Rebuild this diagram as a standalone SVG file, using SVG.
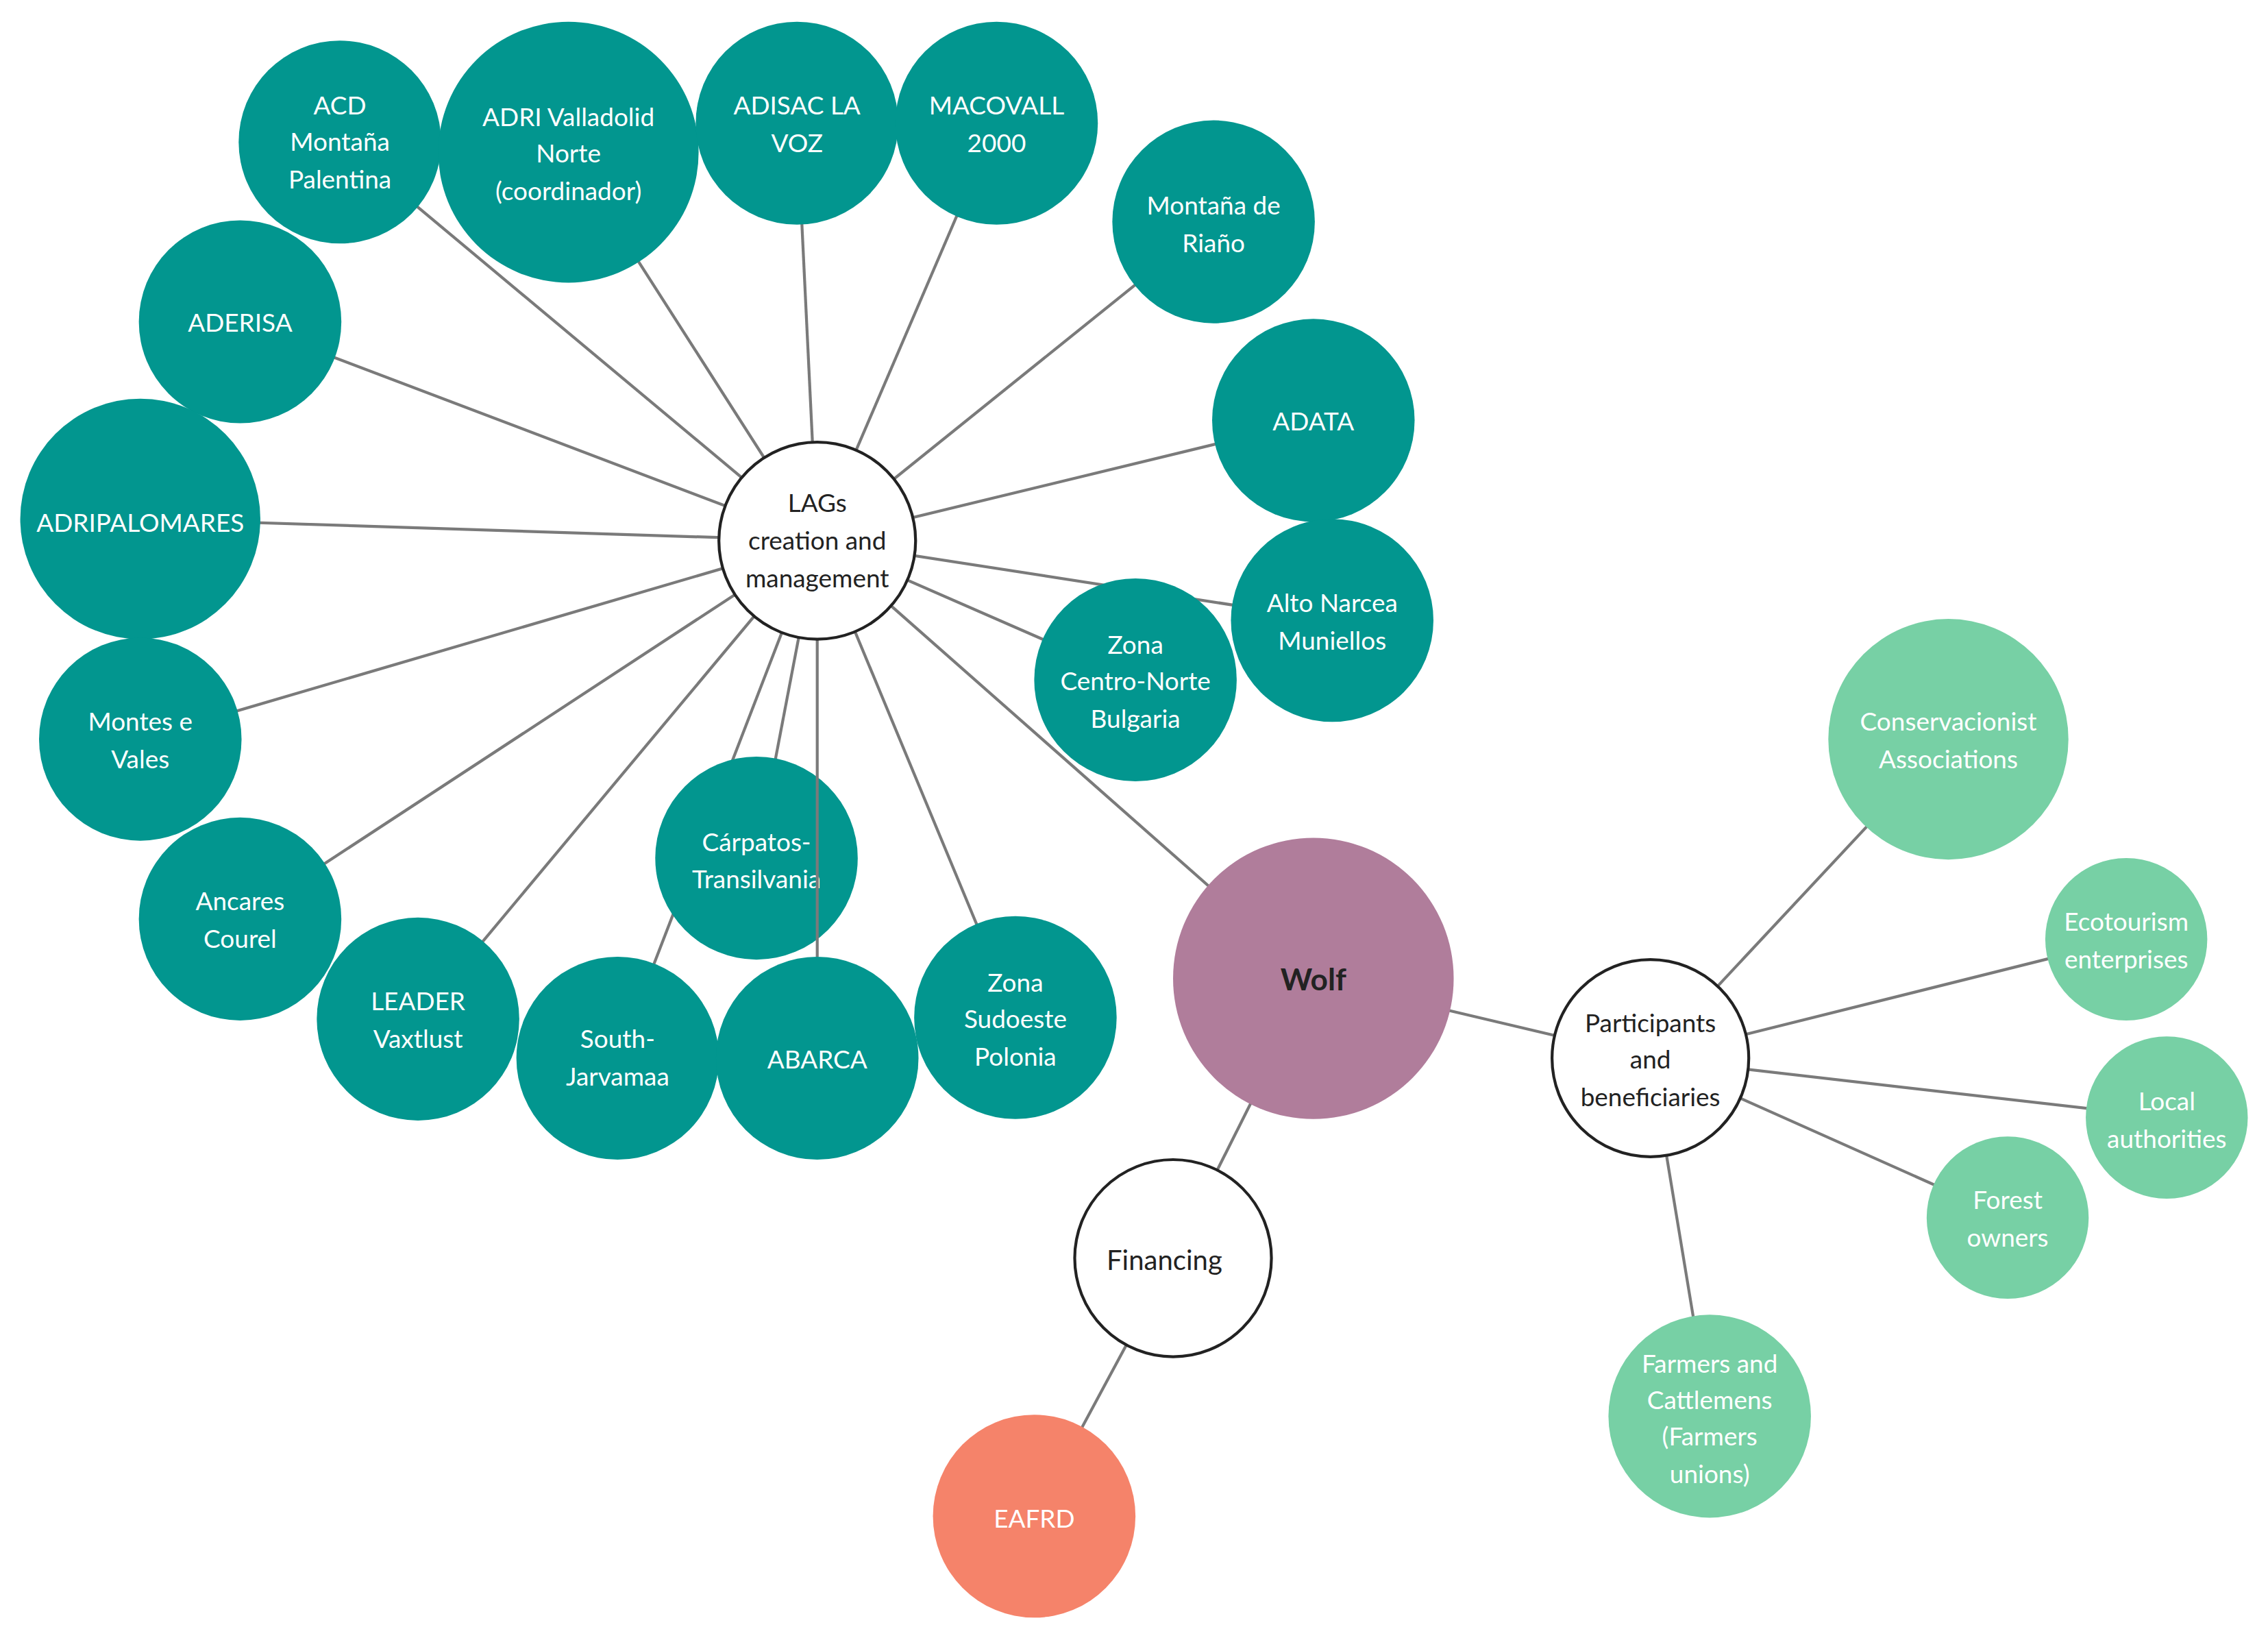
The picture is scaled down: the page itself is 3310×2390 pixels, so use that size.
<svg xmlns="http://www.w3.org/2000/svg" width="3310" height="2390" viewBox="0 0 3310 2390">
<style>
.c line{stroke:#7a7a7a;stroke-width:2}
.t{fill:#02968f}
.w{fill:#fff;stroke:#222;stroke-width:2}
.g{fill:#77d0a5}
text{font-family:Lato,"Open Sans",sans-serif;font-size:17.5px;text-anchor:middle;fill:#fff}
.dk{fill:#222}
</style>
<rect width="3310" height="2390" fill="#fff"/>
<g transform="scale(2.111,2.115)">
<g id="connectors" class="c">
<line x1="565" y1="373" x2="235" y2="98"/>
<line x1="565" y1="373" x2="393" y2="105"/>
<line x1="565" y1="373" x2="551" y2="85"/>
<line x1="565" y1="373" x2="689" y2="85"/>
<line x1="565" y1="373" x2="839" y2="153"/>
<line x1="565" y1="373" x2="908" y2="290"/>
<line x1="565" y1="373" x2="921" y2="428"/>
<line x1="565" y1="373" x2="785" y2="469"/>
<line x1="565" y1="373" x2="166" y2="222"/>
<line x1="565" y1="373" x2="97" y2="358"/>
<line x1="565" y1="373" x2="97" y2="510"/>
<line x1="565" y1="373" x2="166" y2="634"/>
<line x1="565" y1="373" x2="289" y2="703"/>
<line x1="565" y1="373" x2="427" y2="730"/>
<line x1="565" y1="373" x2="523" y2="592"/>
<line x1="565" y1="373" x2="702" y2="702"/>
<line x1="565" y1="373" x2="908" y2="675"/>
<line x1="908" y1="675" x2="1141" y2="730"/>
<line x1="908" y1="675" x2="811" y2="868"/>
<line x1="811" y1="868" x2="715" y2="1046"/>
<line x1="1141" y1="730" x2="1347" y2="510"/>
<line x1="1141" y1="730" x2="1470" y2="648"/>
<line x1="1141" y1="730" x2="1498" y2="771"/>
<line x1="1141" y1="730" x2="1388" y2="840"/>
<line x1="1141" y1="730" x2="1182" y2="977"/>
</g>
<g id="n1"><circle class="t" cx="235" cy="98" r="70"/><text x="235" y="79">ACD</text><text x="235" y="104">Montaña</text><text x="235" y="130">Palentina</text></g>
<g id="n2"><circle class="t" cx="393" cy="105" r="90"/><text x="393" y="87">ADRI Valladolid</text><text x="393" y="112">Norte</text><text x="393" y="138">(coordinador)</text></g>
<g id="n3"><circle class="t" cx="551" cy="85" r="70"/><text x="551" y="79">ADISAC LA</text><text x="551" y="105">VOZ</text></g>
<g id="n4"><circle class="t" cx="689" cy="85" r="70"/><text x="689" y="79">MACOVALL</text><text x="689" y="105">2000</text></g>
<g id="n5"><circle class="t" cx="839" cy="153" r="70"/><text x="839" y="148">Montaña de</text><text x="839" y="174">Riaño</text></g>
<g id="n6"><circle class="t" cx="908" cy="290" r="70"/><text x="908" y="297">ADATA</text></g>
<g id="n7"><circle class="t" cx="921" cy="428" r="70"/><text x="921" y="422">Alto Narcea</text><text x="921" y="448">Muniellos</text></g>
<g id="n8"><circle class="t" cx="785" cy="469" r="70"/><text x="785" y="451">Zona</text><text x="785" y="476">Centro-Norte</text><text x="785" y="502">Bulgaria</text></g>
<g id="n9"><circle class="t" cx="166" cy="222" r="70"/><text x="166" y="229">ADERISA</text></g>
<g id="n10"><circle class="t" cx="97" cy="358" r="83"/><text x="97" y="367">ADRIPALOMARES</text></g>
<g id="n11"><circle class="t" cx="97" cy="510" r="70"/><text x="97" y="504">Montes e</text><text x="97" y="530">Vales</text></g>
<g id="n12"><circle class="t" cx="166" cy="634" r="70"/><text x="166" y="628">Ancares</text><text x="166" y="654">Courel</text></g>
<g id="n13"><circle class="t" cx="289" cy="703" r="70"/><text x="289" y="697">LEADER</text><text x="289" y="723">Vaxtlust</text></g>
<g id="n14"><circle class="t" cx="427" cy="730" r="70"/><text x="427" y="723">South-</text><text x="427" y="749">Jarvamaa</text></g>
<g id="n15"><circle class="t" cx="523" cy="592" r="70"/><text x="523" y="587">Cárpatos-</text><text x="523" y="613">Transilvania</text></g>
<g id="n16"><circle class="t" cx="565" cy="730" r="70"/><text x="565" y="737">ABARCA</text></g>
<line x1="565" y1="435" x2="565" y2="660" stroke="#7a7a7a" stroke-width="2"/>
<g id="n17"><circle class="t" cx="702" cy="702" r="70"/><text x="702" y="684">Zona</text><text x="702" y="709">Sudoeste</text><text x="702" y="735">Polonia</text></g>
<g id="lags"><circle class="w" cx="565" cy="373" r="68"/><text class="dk" x="565" y="353">LAGs</text><text class="dk" x="565" y="379">creation and</text><text class="dk" x="565" y="405">management</text></g>
<g id="wolf"><circle fill="#b07d9b" cx="908" cy="675" r="97"/><text class="dk" x="908" y="683" style="font-size:21px;font-weight:bold">Wolf</text></g>
<g id="part"><circle class="w" cx="1141" cy="730" r="68"/><text class="dk" x="1141" y="712">Participants</text><text class="dk" x="1141" y="737">and</text><text class="dk" x="1141" y="763">beneficiaries</text></g>
<g id="fin"><circle class="w" cx="811" cy="868" r="68"/><text class="dk" x="805" y="876" style="font-size:19px">Financing</text></g>
<g id="eafrd"><circle fill="#f5836a" cx="715" cy="1046" r="70"/><text x="715" y="1054">EAFRD</text></g>
<g id="cons"><circle class="g" cx="1347" cy="510" r="83"/><text x="1347" y="504">Conservacionist</text><text x="1347" y="530">Associations</text></g>
<g id="eco"><circle class="g" cx="1470" cy="648" r="56"/><text x="1470" y="642">Ecotourism</text><text x="1470" y="668">enterprises</text></g>
<g id="local"><circle class="g" cx="1498" cy="771" r="56"/><text x="1498" y="766">Local</text><text x="1498" y="792">authorities</text></g>
<g id="forest"><circle class="g" cx="1388" cy="840" r="56"/><text x="1388" y="834">Forest</text><text x="1388" y="860">owners</text></g>
<g id="farm"><circle class="g" cx="1182" cy="977" r="70"/><text x="1182" y="947">Farmers and</text><text x="1182" y="972">Cattlemens</text><text x="1182" y="997">(Farmers</text><text x="1182" y="1023">unions)</text></g>
</g>
</svg>
